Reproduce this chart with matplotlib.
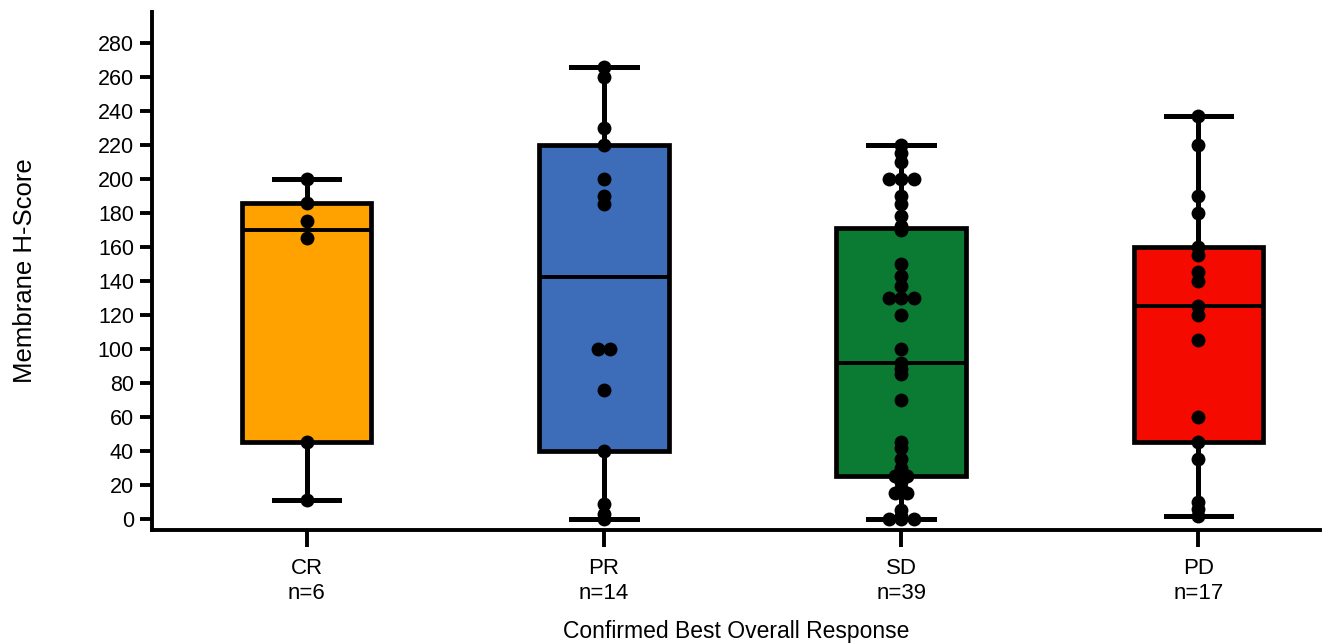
import numpy as np
import matplotlib
matplotlib.use('Agg')
import matplotlib.pyplot as plt

plt.rcParams['font.family'] = ['Liberation Sans', 'DejaVu Sans']

# --- data ----------------------------------------------------------------
groups = ['CR', 'PR', 'SD', 'PD']
counts = [6, 14, 39, 17]
box_colors = ['#FFA200', '#3D6DB9', '#0B7B33', '#F50A00']

cr_scores = [200, 186, 175, 165, 45, 11]
pr_scores = [266, 260, 230, 220, 200, 190, 185, 100, 100, 76, 40, 9, 3, 0]
sd_scores = [220, 215, 210, 200, 200, 200, 190, 185, 178, 172, 170,
             150, 143, 137, 130, 130, 130, 120, 100, 92, 88, 85, 70,
             45, 42, 35, 30, 28, 25, 25, 22, 18, 15, 15, 5, 2, 0, 0, 0]
pd_scores = [237, 220, 190, 180, 160, 155, 145, 140, 125, 120, 105,
             60, 45, 35, 10, 6, 2]
all_scores = [cr_scores, pr_scores, sd_scores, pd_scores]

yticks = list(range(0, 281, 20))


def hinge_stats(vals):
    # Tukey hinges (median of each half, median included for odd n)
    v = np.sort(vals)
    half = (len(v) + 1) // 2
    return {'med': np.median(v), 'q1': np.median(v[:half]),
            'q3': np.median(v[len(v) - half:]),
            'whislo': v.min(), 'whishi': v.max(), 'fliers': []}


fig = plt.figure(figsize=(13.27, 6.44), dpi=100)
ax = fig.add_axes([0.1145, 0.177, 0.8805, 0.804])

positions = np.arange(len(groups))
stats = [hinge_stats(s) for s in all_scores]
bp = ax.bxp(stats, positions=positions, widths=0.435, patch_artist=True,
            capwidths=0.22, showfliers=False, manage_ticks=False,
            boxprops=dict(linewidth=3.4, edgecolor='black'),
            medianprops=dict(color='black', linewidth=2.8),
            whiskerprops=dict(color='black', linewidth=3.6),
            capprops=dict(color='black', linewidth=3.6))
for patch, c in zip(bp['boxes'], box_colors):
    patch.set_facecolor(c)
    patch.set_zorder(2)

# dots: identical values are spread side by side, others stay centred
step = 12.5 / 297.0
for pos, vals in zip(positions, all_scores):
    xs, ys = [], []
    uniq, cnt = np.unique(vals, return_counts=True)
    for u, k in zip(uniq, cnt):
        offs = (np.arange(k) - (k - 1) / 2.0) * step
        xs.extend(pos + offs)
        ys.extend([u] * k)
    ax.scatter(xs, ys, s=100, color='black', zorder=4, linewidths=0)

ax.set_xlim(-0.52, 3.41)
ax.set_ylim(-6.5, 298)
ax.set_yticks(yticks)
ax.set_xticks(positions)
ax.set_xticklabels([f'{g}\nn={n}' for g, n in zip(groups, counts)],
                   fontsize=16, linespacing=1.25)
ax.tick_params(axis='y', labelsize=15.5, length=9, width=2.8, pad=4)
ax.tick_params(axis='x', length=12, width=2.8, pad=8)
for side in ['top', 'right']:
    ax.spines[side].set_visible(False)
for side in ['left', 'bottom']:
    ax.spines[side].set_linewidth(2.8)

ax.set_ylabel('Membrane H-Score', fontsize=18.5, labelpad=44)
ax.set_xlabel('Confirmed Best Overall Response', fontsize=16.5, labelpad=12)

fig.savefig('out.png', dpi=100)
